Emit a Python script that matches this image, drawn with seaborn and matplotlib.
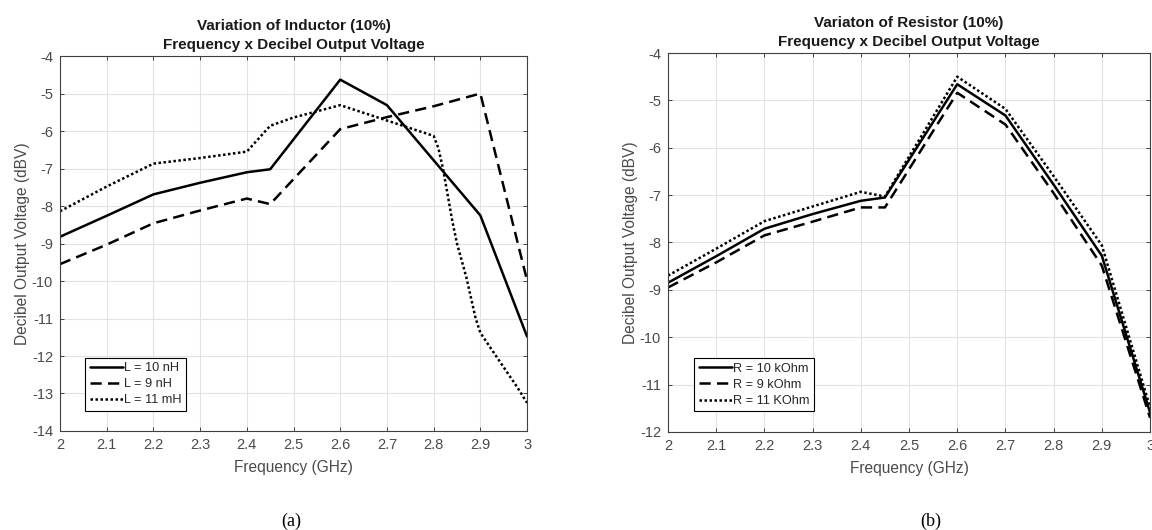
import numpy as np
import pandas as pd
import matplotlib
matplotlib.use("Agg")
import matplotlib.pyplot as plt
import seaborn as sns

# ---------------- data ----------------
# (a) Variation of inductor
freq_L10 = [2.0, 2.1, 2.2, 2.3, 2.4, 2.45, 2.6, 2.7, 2.8, 2.9, 3.0]
db_L10   = [-8.82, -8.26, -7.69, -7.38, -7.10, -7.02, -4.63, -5.31, -6.78, -8.25, -11.48]

freq_L9 = [2.0, 2.1, 2.2, 2.3, 2.4, 2.45, 2.6, 2.7, 2.8, 2.9, 3.0]
db_L9   = [-9.55, -9.03, -8.46, -8.12, -7.80, -7.95, -5.95, -5.63, -5.34, -5.00, -9.98]

freq_L11 = [2.0, 2.1, 2.2, 2.3, 2.4, 2.45, 2.5, 2.6, 2.7, 2.8, 2.81, 2.82, 2.83,
            2.84, 2.85, 2.86, 2.87, 2.88, 2.89, 2.9, 2.92, 2.95, 2.98, 3.0]
db_L11   = [-8.14, -7.48, -6.87, -6.72, -6.55, -5.86, -5.64, -5.31, -5.72, -6.13,
            -6.45, -7.00, -7.70, -8.40, -9.00, -9.45, -9.90, -10.45, -11.00, -11.38,
            -11.75, -12.30, -12.85, -13.25]

# (b) Variation of resistor
freq_R = [2.0, 2.1, 2.2, 2.3, 2.4, 2.45, 2.6, 2.7, 2.8, 2.9, 3.0]
db_R10 = [-8.85, -8.29, -7.71, -7.40, -7.12, -7.05, -4.66, -5.32, -6.78, -8.28, -11.59]
db_R9  = [-8.95, -8.42, -7.85, -7.56, -7.26, -7.26, -4.84, -5.51, -6.96, -8.49, -11.70]
db_R11 = [-8.70, -8.13, -7.55, -7.24, -6.93, -7.03, -4.50, -5.18, -6.60, -8.06, -11.48]

labels_L = ["L = 10 nH", "L = 9 nH", "L = 11 mH"]
labels_R = ["R = 10 kOhm", "R = 9 kOhm", "R = 11 KOhm"]

x_ticks = [2.0, 2.1, 2.2, 2.3, 2.4, 2.5, 2.6, 2.7, 2.8, 2.9, 3.0]
x_ticklabels = ["2", "2.1", "2.2", "2.3", "2.4", "2.5", "2.6", "2.7", "2.8", "2.9", "3"]
yticks_L = list(range(-14, -3))
yticks_R = list(range(-12, -3))

title_L = "Variation of Inductor (10%)\nFrequency x Decibel Output Voltage"
title_R = "Variaton of Resistor (10%)\nFrequency x Decibel Output Voltage"
xlabel = "Frequency (GHz)"
ylabel = "Decibel Output Voltage (dBV)"

# ---------------- style ----------------
sns.set_theme(style="whitegrid")
plt.rcParams["font.family"] = ["Liberation Sans", "DejaVu Sans"]

styles = [dict(linestyle="-"),
          dict(linestyle=(0, (4.5, 2.5))),
          dict(linestyle=(0, (1, 1)))]

fig = plt.figure(figsize=(11.52, 5.30), dpi=100)
axL = fig.add_axes([0.0521, 0.1868, 0.4054, 0.7075])
axR = fig.add_axes([0.5799, 0.1850, 0.4184, 0.7150])

gray = "#404040"


def draw(ax, series, labels, yticks, title):
    for (xs, ys), lab, st in zip(series, labels, styles):
        df = pd.DataFrame({"f": xs, "v": ys})
        sns.lineplot(data=df, x="f", y="v", ax=ax, color="black", lw=1.8,
                     label=lab, sort=False, **st)
    ax.set_xlim(2, 3)
    ax.set_ylim(yticks[0], yticks[-1])
    ax.set_xticks(x_ticks)
    ax.set_xticklabels(x_ticklabels)
    ax.set_yticks(yticks)
    ax.set_yticklabels([str(t) for t in yticks])
    ax.grid(True, color="#e2e2e2", lw=0.8)
    ax.set_facecolor("white")
    for s in ax.spines.values():
        s.set_visible(True)
        s.set_color(gray)
        s.set_linewidth(0.8)
    ax.tick_params(direction="in", length=3, width=0.7, colors=gray,
                   labelsize=10.5, top=True, right=True, bottom=True, left=True,
                   labelcolor="#4a4a4a", pad=5)
    ax.set_xlabel(xlabel, fontsize=11.2, color="#4a4a4a", labelpad=6)
    ax.set_ylabel(ylabel, fontsize=11.2, color="#4a4a4a", labelpad=1)
    ax.set_title(title, fontsize=11, fontweight="bold", color="#1a1a1a",
                 pad=5, linespacing=1.45)
    leg = ax.legend(loc="lower left", bbox_to_anchor=(0.054, 0.054),
                    borderaxespad=0, frameon=True, fancybox=False,
                    edgecolor="black", framealpha=1, fontsize=9.2,
                    handlelength=2.6, handletextpad=0.1, borderpad=0.35,
                    labelspacing=0.32)
    leg.get_frame().set_linewidth(0.8)
    for t in leg.get_texts():
        t.set_color("#262626")


draw(axL, [(freq_L10, db_L10), (freq_L9, db_L9), (freq_L11, db_L11)],
     labels_L, yticks_L, title_L)
draw(axR, [(freq_R, db_R10), (freq_R, db_R9), (freq_R, db_R11)],
     labels_R, yticks_R, title_R)

fig.text(0.2526, 0.016, "(a)", fontsize=13, family=["Liberation Serif", "DejaVu Serif"],
         ha="center", va="center", color="black")
fig.text(0.8082, 0.016, "(b)", fontsize=13, family=["Liberation Serif", "DejaVu Serif"],
         ha="center", va="center", color="black")

fig.savefig("out.png", dpi=100, facecolor="white")
